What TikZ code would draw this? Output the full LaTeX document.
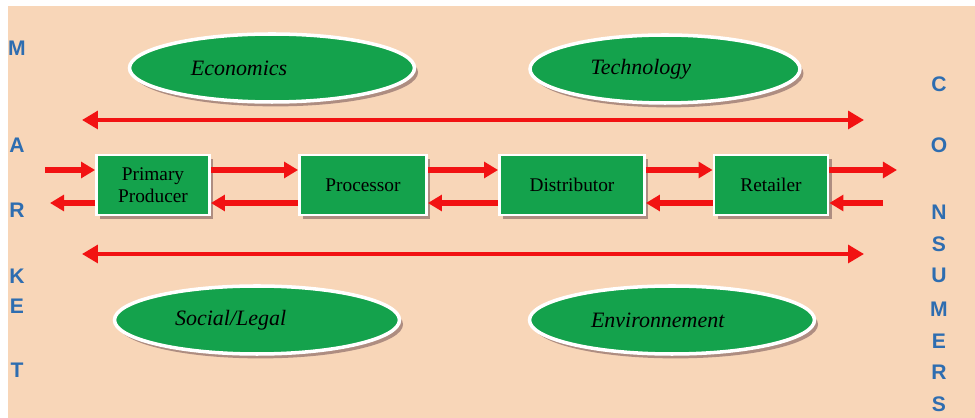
\documentclass[tikz,border=0pt]{standalone}
\usepackage{fontspec}
\setmainfont{Liberation Serif}
\newfontfamily\lettersfont{Liberation Sans}
\usetikzlibrary{arrows.meta,shapes.geometric,shadows}
\definecolor{peach}{HTML}{F8D6B8}
\definecolor{boxgreen}{HTML}{14A24C}
\definecolor{arrred}{HTML}{F21212}
\definecolor{letblue}{HTML}{2E6DB0}
\definecolor{shadowc}{HTML}{9C7B74}
\tikzset{
  px/.style={x=0.02cm,y=-0.02cm},
  actor/.style={draw=white, line width=1.6pt, fill=boxgreen, minimum width=#1*0.02cm, minimum height=60*0.02cm, inner sep=1pt, align=center, font=\fontsize{11}{12.5}\selectfont, drop shadow={shadow xshift=2pt, shadow yshift=-2pt, fill=shadowc, opacity=0.8}},
  factor/.style={ellipse, draw=white, line width=2pt, fill=boxgreen, minimum width=285*0.02cm, minimum height=68*0.02cm, font=\fontsize{12.5}{13}\itshape\selectfont, drop shadow={shadow xshift=2pt, shadow yshift=-2.5pt, fill=shadowc, opacity=0.8}},
  letter/.style={text=letblue, font=\lettersfont\bfseries\fontsize{12}{13}\selectfont, inner sep=0pt},
  longarr/.style={draw=arrred, line width=2.6pt, {Triangle[length=9pt,width=10pt]}-{Triangle[length=9pt,width=10pt]}},
  shortarr/.style={draw=arrred, line width=3pt, -{Triangle[length=8pt,width=9pt]}}
}
\begin{document}
\begin{tikzpicture}[px]
\useasboundingbox (0,0) rectangle (975,418);
\fill[white] (0,0) rectangle (975,418);
\fill[peach] (8,6) rectangle (975,418);
% MARKET
\node[letter] (m1) at (17,48) {M};
\node[letter] (m2) at (17,145) {A};
\node[letter] (m3) at (17,210) {R};
\node[letter] (m4) at (17,276) {K};
\node[letter] (m5) at (17,306) {E};
\node[letter] (m6) at (17,370) {T};
% CONSUMERS
\node[letter] (c1) at (939,84) {C};
\node[letter] (c2) at (939,145) {O};
\node[letter] (c3) at (939,212) {N};
\node[letter] (c4) at (939,244) {S};
\node[letter] (c5) at (939,275) {U};
\node[letter] (c6) at (939,309) {M};
\node[letter] (c7) at (939,341) {E};
\node[letter] (c8) at (939,372) {R};
\node[letter] (c9) at (939,404) {S};
% factors
\node[factor] (eco) at (272,68) {Economics\kern3em};
\node[factor, minimum width=270*0.02cm] (tec) at (665,69) {Technology\kern2.2em};
\node[factor] (soc) at (257,320) {Social/Legal\kern2.4em};
\node[factor] (env) at (672,320) {Environnement\kern1.3em};
% actors
\node[actor=113] (pp) at (153,185) {Primary\\Producer};
\node[actor=127] (pr) at (363,185) {Processor};
\node[actor=145] (di) at (572,185) {Distributor};
\node[actor=114] (re) at (771,185) {Retailer};
% long arrows
\coordinate (tl) at (82,120); \coordinate (tr) at (864,120);
\coordinate (bl) at (82,254); \coordinate (br) at (864,254);
\draw[longarr] (tl) -- (tr);
\draw[longarr] (bl) -- (br);
% short arrows
\coordinate (inR) at (45,170);
\coordinate (outL) at (50,203);
\coordinate (outR) at (897,170);
\coordinate (inL) at (883,203);
\draw[shortarr] (inR) -- (pp.west |- inR);
\draw[shortarr] (pp.west |- outL) -- (outL);
\draw[shortarr] (pp.east |- inR) -- (pr.west |- inR);
\draw[shortarr] (pr.west |- outL) -- (pp.east |- outL);
\draw[shortarr] (pr.east |- inR) -- (di.west |- inR);
\draw[shortarr] (di.west |- outL) -- (pr.east |- outL);
\draw[shortarr] (di.east |- inR) -- (re.west |- inR);
\draw[shortarr] (re.west |- outL) -- (di.east |- outL);
\draw[shortarr] (re.east |- inR) -- (outR);
\draw[shortarr] (inL) -- (re.east |- outL);
\end{tikzpicture}
\end{document}
